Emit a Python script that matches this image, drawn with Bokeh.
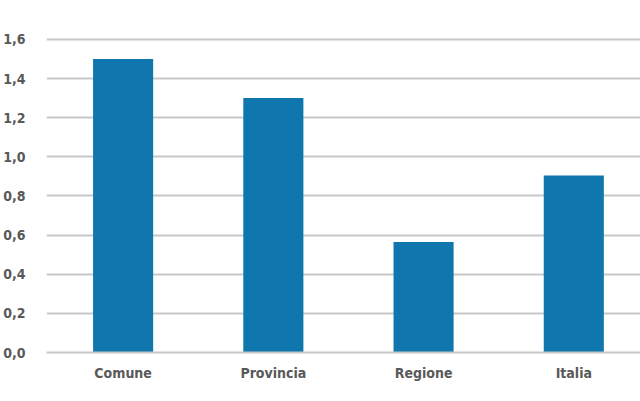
from bokeh.plotting import figure
from bokeh.models import Range1d, FixedTicker, ColumnDataSource
from bokeh.embed import file_html
from bokeh.resources import INLINE

categories = ["Comune", "Provincia", "Regione", "Italia"]
values = [1.50, 1.30, 0.565, 0.905]
y_ticks = [0.0, 0.2, 0.4, 0.6, 0.8, 1.0, 1.2, 1.4, 1.6]
y_tick_labels = ["0,0", "0,2", "0,4", "0,6", "0,8", "1,0", "1,2", "1,4", "1,6"]

xs = [i + 0.5 for i in range(len(categories))]
src = ColumnDataSource(dict(x=xs, top=values))

FONT = "DejaVu Sans Condensed"
TXT = "#595959"
GRID = "#c8c8c8"

p = figure(width=640, height=401, output_backend="svg", toolbar_location=None,
           x_range=Range1d(-0.01, 3.944), y_range=Range1d(0, 1.62),
           min_border_left=43, min_border_right=0, min_border_top=35, min_border_bottom=49)
p.outline_line_color = None
p.background_fill_color = "white"
p.border_fill_color = "white"

p.vbar(x="x", top="top", width=0.4, bottom=0, source=src, fill_color="#1076ae", line_color=None)

p.xgrid.grid_line_color = None
p.ygrid.grid_line_color = GRID
p.ygrid.grid_line_width = 2
p.ygrid.ticker = FixedTicker(ticks=y_ticks)

p.yaxis.ticker = FixedTicker(ticks=y_ticks)
p.yaxis.major_label_overrides = {t: l for t, l in zip(y_ticks, y_tick_labels)}
p.yaxis.axis_line_color = None
p.yaxis.major_tick_line_color = None
p.yaxis.minor_tick_line_color = None
p.yaxis.major_label_standoff = 15
p.yaxis.major_label_text_font = FONT
p.yaxis.major_label_text_font_style = "bold"
p.yaxis.major_label_text_font_size = "14px"
p.yaxis.major_label_text_color = TXT

p.xaxis.ticker = FixedTicker(ticks=xs)
p.xaxis.major_label_overrides = {x: c for x, c in zip(xs, categories)}
p.xaxis.axis_line_color = GRID
p.xaxis.axis_line_width = 2
p.xaxis.major_tick_line_color = None
p.xaxis.minor_tick_line_color = None
p.xaxis.major_label_standoff = 6
p.xaxis.major_label_text_font = FONT
p.xaxis.major_label_text_font_style = "bold"
p.xaxis.major_label_text_font_size = "14px"
p.xaxis.major_label_text_color = TXT

open("out.html", "w").write(file_html(p, INLINE))
